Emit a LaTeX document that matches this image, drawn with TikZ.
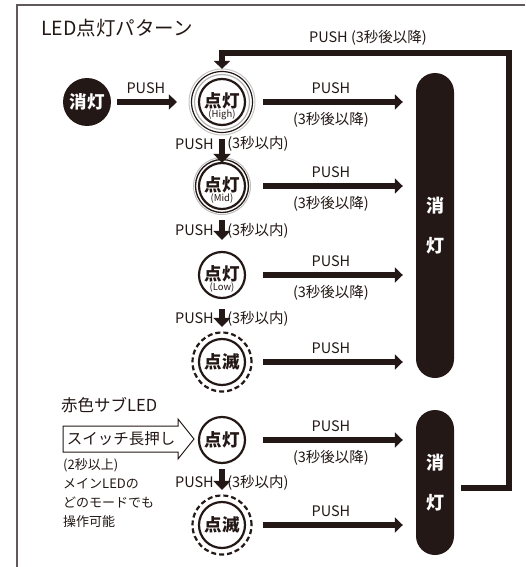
\documentclass[tikz,border=0pt]{standalone}
\usepackage{fontspec}
\setmainfont{Noto Sans CJK JP}
\usepackage{tikz}
\usetikzlibrary{arrows.meta}
\definecolor{ink}{HTML}{231815}
\definecolor{framegray}{HTML}{5F5A59}

\begin{document}
\begin{tikzpicture}[x=1pt,y=-1pt,
		txt/.style={inner sep=0pt,text=ink,font=\fontsize{14.5}{16}\selectfont},
		lamp/.style={circle,draw=ink,line width=2.2pt,minimum size=46pt,inner sep=0pt,text=ink,font=\fontsize{17.5}{17.5}\selectfont\bfseries},
		sublbl/.style={inner sep=0pt,text=ink,font=\fontsize{9.5}{10}\selectfont},
		pill/.style={fill=ink,rounded corners=19pt,minimum width=38pt,inner sep=0pt,text=white,align=center,font=\fontsize{18}{40}\selectfont\bfseries},
		push/.style={ink,line width=6pt,-{Triangle[length=8pt,width=15pt]}},
		pushdown/.style={ink,line width=6.5pt,-{Triangle[length=9pt,width=17pt]},shorten <=10pt,shorten >=11pt}]
			\useasboundingbox (0,0) rectangle (525,567);
			\draw[framegray,line width=2pt] (525,5) -- (17,5) -- (17,567);
			\node[txt,anchor=west,font=\fontsize{19.5}{21}\selectfont] (title) at (41,28) {LED点灯パターン};

			\node[circle,fill=ink,minimum size=48pt,inner sep=0pt,text=white,font=\fontsize{17.5}{17.5}\selectfont\bfseries] (off) at (87,102) {消灯};
			\node[lamp] (high) at (222,102) {\raisebox{3pt}{点灯}};
			\node[lamp] (mid) at (222,186) {\raisebox{3pt}{点灯}};
			\node[lamp] (low) at (222,275) {\raisebox{3pt}{点灯}};
			\node[lamp] (blink) at (222,362) {点滅};
			\node[lamp] (subon) at (222,440) {点灯};
			\node[lamp] (subblink) at (222,525) {点滅};
			\node[sublbl] (highsub) at ([yshift=-13pt]high) {(High)};
			\node[sublbl] (midsub) at ([yshift=-13pt]mid) {(Mid)};
			\node[sublbl] (lowsub) at ([yshift=-13pt]low) {(Low)};

			\draw[gray!60,line width=1.2pt] (high) circle (27.5pt);
			\draw[ink,line width=1.2pt] (high) circle (30.5pt);
			\draw[gray!45,line width=1pt] (high) circle (33pt);
			\draw[ink,line width=1.3pt] (mid) circle (26.5pt);
			\draw[gray!50,line width=1pt] (mid) circle (28.5pt);
			\draw[ink,line width=2.2pt,dash pattern=on 5pt off 3pt] (blink) circle (29.5pt);
			\draw[ink,line width=2.2pt,dash pattern=on 5pt off 3pt] (subblink) circle (29.5pt);

			\node[pill,minimum height=305pt] (pill1) at (435,225.5) {消\\灯};
			\node[pill,minimum height=145pt] (pill2) at (435,482.5) {消\\灯};

			\draw[push,shorten <=6pt,shorten >=21pt] (off) -- (high) node[txt,pos=.4,yshift=14pt]{PUSH};
			\draw[push,shorten <=17pt,shorten >=13pt] (high) -- (high -| pill1.west) node[txt,midway,yshift=14pt]{PUSH} node[txt,midway,yshift=-18pt]{(3秒後以降)};
			\draw[push,shorten <=17pt,shorten >=13pt] (mid) -- (mid -| pill1.west) node[txt,midway,yshift=14pt]{PUSH} node[txt,midway,yshift=-18pt]{(3秒後以降)};
			\draw[push,shorten <=17pt,shorten >=13pt] (low) -- (low -| pill1.west) node[txt,midway,yshift=14pt]{PUSH} node[txt,midway,yshift=-18pt]{(3秒後以降)};
			\draw[push,shorten <=17pt,shorten >=13pt] (blink) -- (blink -| pill1.west) node[txt,midway,yshift=14pt]{PUSH};
			\draw[push,shorten <=17pt,shorten >=13pt] (subon) -- (subon -| pill2.west) node[txt,midway,yshift=14pt]{PUSH} node[txt,midway,yshift=-18pt]{(3秒後以降)};
			\draw[push,shorten <=17pt,shorten >=13pt] (subblink) -- (subblink -| pill2.west) node[txt,midway,yshift=14pt]{PUSH};

			\draw[pushdown,shorten <=13pt,shorten >=-1pt] (high) -- (mid) node[txt,midway,left=5pt]{PUSH} node[txt,midway,right=2pt]{(3秒以内)};
			\draw[pushdown] (mid) -- (low) node[txt,midway,left=5pt]{PUSH} node[txt,midway,right=2pt]{(3秒以内)};
			\draw[pushdown] (low) -- (blink) node[txt,midway,left=5pt]{PUSH} node[txt,midway,right=2pt]{(3秒以内)};
			\draw[pushdown,shorten <=5pt] (subon) -- (subblink) node[txt,midway,left=5pt]{PUSH} node[txt,midway,right=2pt]{(3秒以内)};

			\draw[ink,line width=5.5pt,-{Triangle[length=8pt,width=16pt]},shorten >=9pt] ([xshift=7pt,yshift=-5.5pt]pill2.east) -| (509,53) -| (high.north);
			\node[txt] (fblbl) at (368,38) {PUSH (3秒後以降)};

			\node[txt,anchor=west,font=\fontsize{16.5}{17}\selectfont] (subled) at (61,405) {赤色サブLED};
			\draw[ink,line width=1pt] (63,426) -- (178,426) -- (178,419) -- (194,439) -- (178,459) -- (178,452) -- (63,452) -- cycle;
			\node[txt,font=\fontsize{15.5}{16}\selectfont] (hold) at (121,439) {スイッチ長押し};
			\node[txt,anchor=north west,align=left,font=\fontsize{13}{19}\selectfont] (note) at (63,458) {(2秒以上)\\メインLEDの\\どのモードでも\\操作可能};
		\end{tikzpicture}
\end{document}
